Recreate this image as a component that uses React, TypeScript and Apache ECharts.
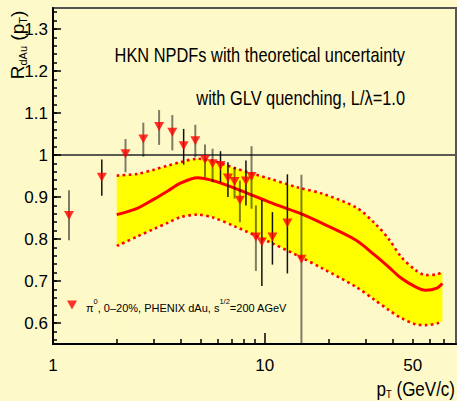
import React, { useEffect, useRef } from 'react';
import * as echarts from 'echarts';

// Theory band (HKN NPDFs + GLV quenching)
const ptBand = [2, 2.5, 3, 3.5, 4, 4.8, 5.7, 7.3, 10.5, 14.5, 18.7, 27, 33, 38.5, 44, 51.5, 57.5, 65, 69];
const rUpper = [0.951, 0.955, 0.965, 0.975, 0.983, 0.991, 0.986, 0.968, 0.944, 0.922, 0.908, 0.875, 0.838, 0.800, 0.758, 0.726, 0.714, 0.716, 0.722];
const rCentral = [0.858, 0.873, 0.895, 0.915, 0.933, 0.946, 0.939, 0.920, 0.888, 0.862, 0.837, 0.797, 0.762, 0.733, 0.707, 0.686, 0.678, 0.683, 0.694];
const rLower = [0.783, 0.806, 0.824, 0.839, 0.852, 0.858, 0.851, 0.829, 0.793, 0.759, 0.730, 0.686, 0.655, 0.631, 0.612, 0.597, 0.595, 0.599, 0.605];

// PHENIX pi0 0-20% dAu data
const phenixPt = [1.19, 1.70, 2.20, 2.67, 3.17, 3.66, 4.14, 4.70, 5.22, 5.67, 6.18, 6.70, 7.20, 7.63, 8.15, 8.66, 9.08, 9.69, 10.87, 12.79, 14.9];
const phenixR = [0.856, 0.947, 1.003, 1.038, 1.068, 1.054, 1.022, 1.034, 0.989, 0.979, 0.975, 0.945, 0.937, 0.892, 0.938, 0.949, 0.805, 0.793, 0.805, 0.838, 0.752];
const phenixLow = [0.797, 0.903, 0.959, 0.996, 1.024, 1.011, 0.977, 0.995, 0.947, 0.935, 0.935, 0.900, 0.896, 0.840, 0.880, 0.872, 0.724, 0.688, 0.739, 0.718, 0.55];
const phenixHigh = [0.916, 0.989, 1.038, 1.077, 1.107, 1.095, 1.062, 1.072, 1.025, 1.015, 1.009, 0.983, 0.971, 0.939, 0.987, 1.021, 0.880, 0.893, 0.864, 0.954, 0.953];
const phenixSet = ['a', 'b', 'a', 'a', 'a', 'a', 'b', 'a', 'a', 'a', 'b', 'b', 'a', 'a', 'b', 'a', 'a', 'b', 'b', 'b', 'a'];

// Axis ticks / labels
const xLabelValues = [1, 10, 50];
const xMajorTicks = [1, 10];
const xMinorTicks = [2, 3, 4, 5, 6, 7, 8, 9, 20, 30, 40, 50, 60, 70];
const yLabelValues = [0.6, 0.7, 0.8, 0.9, 1.0, 1.1, 1.2, 1.3];
const yMinorTicks = Array.from({ length: 40 }, (_, i) => +(0.56 + i * 0.02).toFixed(2));
const Y_MIN = 0.55;
const Y_MAX = 1.35;

const FONT = "'Liberation Sans', Arial, sans-serif";
const BG = '#fef9c9';

export default function App() {
  const ref = useRef<HTMLDivElement>(null);
  useEffect(() => {
    if (!ref.current) return;
    const chart = echarts.init(ref.current, undefined, { renderer: 'svg' });

    const lowerData = ptBand.map((x, i) => [x, rLower[i]]);
    const upperData = ptBand.map((x, i) => [x, rUpper[i]]);
    const centralData = ptBand.map((x, i) => [x, rCentral[i]]);
    const pts = phenixPt.map((x, i) => [x, phenixR[i]]);
    const errA: number[][] = [];
    const errB: number[][] = [];
    phenixPt.forEach((x, i) => {
      (phenixSet[i] === 'a' ? errA : errB).push([x, phenixLow[i], phenixHigh[i]]);
    });
    const nB = ptBand.length - 1;

    const errSeries = (name: string, data: number[][], color: string, w: number) => ({
      type: 'custom',
      name,
      data,
      z: 6,
      encode: { x: 0, y: [1, 2] },
      renderItem: (_p: any, api: any) => {
        const x = api.value(0);
        const a = api.coord([x, api.value(1)]);
        const b = api.coord([x, api.value(2)]);
        return {
          type: 'line',
          shape: { x1: a[0], y1: a[1], x2: b[0], y2: b[1] },
          style: { stroke: color, lineWidth: w },
        };
      },
    });

    const SM = 0.3;
    const dotted = { color: '#ff0000', width: 2.6, type: [2.6, 3.4] as any };

    const axisZ = 10;

    chart.setOption({
      animation: false,
      backgroundColor: BG,
      textStyle: { fontFamily: FONT },
      grid: {
        left: 53, right: 1, top: 8, bottom: 57,
        show: true, borderColor: '#555', borderWidth: 2, backgroundColor: 'transparent',
      },
      legend: {
        left: 62, top: 292, itemWidth: 10, itemHeight: 9, selectedMode: false, z: 20,
        data: [{ name: 'PHENIX', icon: 'path://M0,0L10,0L5,9Z' }],
        formatter: () => '{t|\u03c0}{s|0}{t|, 0\u201320%, PHENIX dAu, s}{s|1/2}{t|=200 AGeV}',
        textStyle: {
          padding: [0, 0, 0, 4],
          rich: {
            t: { fontFamily: FONT, fontSize: 11, color: '#000', lineHeight: 16, verticalAlign: 'bottom' },
            s: { fontFamily: FONT, fontSize: 7.5, color: '#000', lineHeight: 16, verticalAlign: 'top' },
          },
        },
      },
      xAxis: [
        {
          type: 'log', logBase: 10, min: 1, max: 80, position: 'bottom', z: axisZ,
          axisLine: { lineStyle: { color: '#000', width: 2 } },
          axisTick: { inside: true, length: 11, customValues: xMajorTicks, lineStyle: { color: '#000', width: 1.5 } },
          minorTick: { show: false },
          axisLabel: {
            customValues: xLabelValues, margin: 13, fontSize: 17, color: '#000', fontFamily: FONT,
            formatter: (v: number) => String(Math.round(v)),
          },
          splitLine: { show: false },
        },
        {
          type: 'log', logBase: 10, min: 1, max: 80, position: 'bottom', z: axisZ,
          axisLine: { show: false },
          axisTick: { inside: true, length: 5, customValues: xMinorTicks, lineStyle: { color: '#000', width: 1.5 } },
          minorTick: { show: false },
          axisLabel: { show: false },
          splitLine: { show: false },
        },
      ],
      yAxis: [
        {
          type: 'value', min: Y_MIN, max: Y_MAX, position: 'left', z: axisZ,
          axisLine: { show: true, lineStyle: { color: '#000', width: 2 } },
          axisTick: { show: true, inside: true, length: 8, customValues: yLabelValues, lineStyle: { color: '#000', width: 1.5 } },
          axisLabel: {
            customValues: yLabelValues, margin: 5, fontSize: 17, color: '#000', fontFamily: FONT,
            formatter: (v: number) => String(+v.toFixed(1)),
          },
          splitLine: { show: false },
        },
        {
          type: 'value', min: Y_MIN, max: Y_MAX, position: 'left', z: axisZ,
          axisLine: { show: false },
          axisTick: { show: true, inside: true, length: 4, customValues: yMinorTicks, lineStyle: { color: '#000', width: 1.5 } },
          axisLabel: { show: false },
          splitLine: { show: false },
        },
      ],
      series: [
        {
          type: 'line', name: 'bandUpperFill', data: upperData, smooth: SM,
          symbol: 'none', lineStyle: { width: 0, opacity: 0 },
          areaStyle: { color: '#ffff00', opacity: 1, origin: 'start' }, z: 1, silent: true,
        },
        {
          type: 'line', name: 'bandLowerMask', data: lowerData, smooth: SM,
          symbol: 'none', lineStyle: { width: 0, opacity: 0 },
          areaStyle: { color: BG, opacity: 1, origin: 'start' }, z: 1, silent: true,
          markLine: {
            silent: true, symbol: 'none', label: { show: false },
            lineStyle: { color: BG, width: 1.5, type: 'solid', opacity: 1 },
            data: [
              [{ coord: [ptBand[0], Y_MIN] }, { coord: [ptBand[0], rLower[0]] }],
              [{ coord: [ptBand[nB], Y_MIN] }, { coord: [ptBand[nB], rLower[nB]] }],
            ],
          },
        },
        {
          type: 'line', name: 'upper', data: upperData, smooth: SM, symbol: 'none',
          lineStyle: dotted, z: 3, silent: true,
        },
        {
          type: 'line', name: 'lower', data: lowerData, smooth: SM, symbol: 'none',
          lineStyle: dotted, z: 3, silent: true,
        },
        {
          type: 'line', name: 'central', data: centralData, smooth: SM, symbol: 'none',
          lineStyle: { color: '#ff0000', width: 3 }, z: 4, silent: true,
          markLine: {
            silent: true, symbol: 'none', label: { show: false },
            lineStyle: { color: '#5a5a50', width: 2, type: 'solid' },
            data: [{ yAxis: 1 }],
          },
        },
        errSeries('errA', errA, 'rgba(0,0,0,0.5)', 2),
        errSeries('errB', errB, '#111', 1.5),
        {
          type: 'scatter', name: 'PHENIX', data: pts, symbol: 'triangle', symbolRotate: 180,
          symbolSize: [10, 9], itemStyle: { color: '#ff0000' }, z: 8,
        },
      ],
      graphic: [
        {
          type: 'text', x: 405, y: 55, scaleX: 0.82, z: 50,
          style: { text: 'HKN NPDFs with theoretical uncertainty', fontFamily: FONT, fontSize: 20, fill: '#000', align: 'right', verticalAlign: 'middle' },
        },
        {
          type: 'text', x: 405, y: 98, scaleX: 0.82, z: 50,
          style: { text: 'with GLV quenching, L/\u03bb=1.0', fontFamily: FONT, fontSize: 20, fill: '#000', align: 'right', verticalAlign: 'middle' },
        },
        {
          type: 'group', x: 17, y: 45, rotation: Math.PI / 2, z: 50,
          children: [
            {
              type: 'text', x: 0, y: 0, z: 50,
              style: {
                text: '{r|R}{b|dAu}{r| (p}{b|T}{r|)}', align: 'center', verticalAlign: 'middle',
                rich: {
                  r: { fontFamily: FONT, fontSize: 19, fill: '#000', lineHeight: 22, verticalAlign: 'middle' },
                  b: { fontFamily: FONT, fontSize: 11, fill: '#000', lineHeight: 22, verticalAlign: 'bottom' },
                },
              },
            },
          ],
        },
        {
          type: 'text', x: 455, y: 389, scaleX: 0.85, z: 50,
          style: {
            text: '{r|p}{b|T}{r| (GeV/c)}', align: 'right', verticalAlign: 'middle',
            rich: {
              r: { fontFamily: FONT, fontSize: 20, fill: '#000', lineHeight: 22, verticalAlign: 'middle' },
              b: { fontFamily: FONT, fontSize: 11, fill: '#000', lineHeight: 22, verticalAlign: 'bottom' },
            },
          },
        },
      ],
    });
    return () => chart.dispose();
  }, []);
  return (
    <div style={{ position: 'absolute', left: 0, top: 0, width: 457, height: 401, background: BG }}>
      <div ref={ref} style={{ width: 457, height: 401 }} />
    </div>
  );
}
